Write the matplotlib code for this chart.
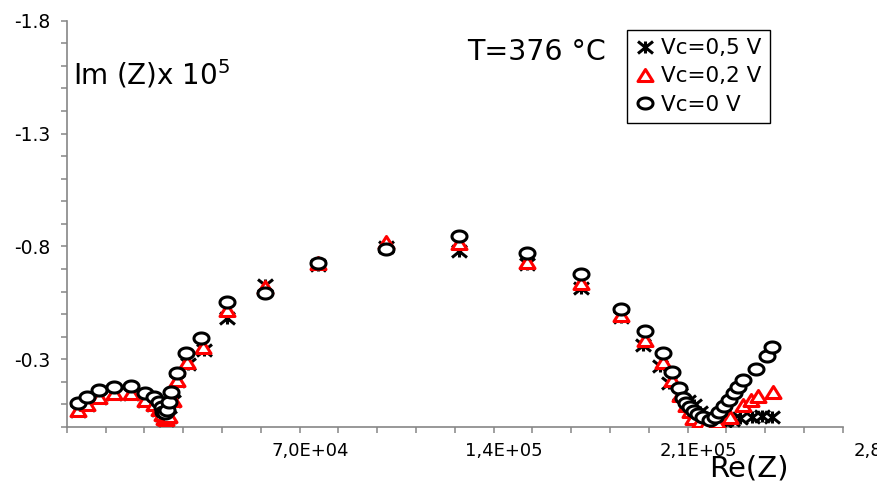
import numpy as np
import matplotlib
matplotlib.use("Agg")
import matplotlib.pyplot as plt
import matplotlib.transforms as mtransforms
from matplotlib.path import Path

plt.rcParams['font.family'] = ['DejaVu Sans']
plt.rcParams['axes.unicode_minus'] = False

# ---------------- data (Re(Z) in ohm, Im(Z) in units of 1e5) ----------------
re_v0 = [4200, 7200, 11800, 17100, 23100, 28300, 31500, 33400, 34300, 34900, 35500,
         36300, 37000, 37500, 39700, 43000, 48300, 57700, 71500, 90800, 115200,
         141700, 166200, 185600, 200000, 208700, 215300, 218300, 221000, 222300,
         223400, 224900, 226300, 227900, 229700, 232100, 233900, 235500, 237300,
         239100, 240800, 242300, 244100, 248700, 252600, 254400]
im_v0 = [-0.105, -0.134, -0.164, -0.179, -0.183, -0.152, -0.134, -0.112, -0.090,
         -0.068, -0.061, -0.075, -0.112, -0.156, -0.241, -0.329, -0.393, -0.555,
         -0.592, -0.728, -0.787, -0.846, -0.770, -0.680, -0.523, -0.427, -0.326,
         -0.245, -0.171, -0.127, -0.105, -0.087, -0.072, -0.058, -0.043, -0.031,
         -0.043, -0.068, -0.093, -0.120, -0.149, -0.179, -0.208, -0.256, -0.315,
         -0.356]

re_v02 = [4100, 7200, 11700, 17100, 23100, 28300, 31500, 33300, 34400, 35100, 35800,
          36900, 38400, 39800, 43300, 49300, 57700, 71500, 90700, 115200, 141700,
          166200, 185600, 200000, 208700, 215300, 218300, 221300, 223400, 224900,
          226000, 228500, 230900, 234500, 239300, 244100, 246900, 249500, 254900]
im_v02 = [-0.075, -0.102, -0.134, -0.151, -0.152, -0.120, -0.102, -0.080, -0.058,
          -0.040, -0.035, -0.049, -0.120, -0.208, -0.289, -0.356, -0.518, -0.622,
          -0.727, -0.820, -0.814, -0.732, -0.638, -0.496, -0.385, -0.289, -0.208,
          -0.142, -0.097, -0.071, -0.040, -0.027, -0.016, -0.023, -0.046, -0.097,
          -0.120, -0.137, -0.156]

re_v05 = [4100, 7200, 11700, 17100, 23100, 28300, 31500, 33300, 34400, 35100, 35800,
          36900, 38400, 39800, 43800, 49500, 57800, 71500, 90700, 115200, 141700,
          166200, 185600, 200000, 207900, 214100, 217300, 221300, 224200, 226300,
          228500, 231400, 234300, 237200, 240000, 242900, 247300, 250900, 254500]
im_v05 = [-0.071, -0.097, -0.128, -0.146, -0.146, -0.115, -0.097, -0.075, -0.053,
          -0.035, -0.031, -0.044, -0.115, -0.204, -0.279, -0.341, -0.483, -0.629,
          -0.718, -0.797, -0.780, -0.722, -0.616, -0.487, -0.363, -0.270, -0.195,
          -0.146, -0.115, -0.097, -0.066, -0.040, -0.027, -0.027, -0.031, -0.040,
          -0.044, -0.049, -0.044]

series_labels = ["Vc=0,5 V", "Vc=0,2 V", "Vc=0 V"]
xtick_values = [70000, 140000, 210000, 280000]
xtick_labels = ["7,0E+04", "1,4E+05", "2,1E+05", "2,8E+05"]
ytick_values = [-1.8, -1.3, -0.8, -0.3]
ytick_labels = ["-1.8", "-1.3", "-0.8", "-0.3"]

# ---------------- custom (horizontally stretched) markers ----------------
t = np.linspace(0, 2 * np.pi, 72)
ellipse = Path(np.column_stack([0.5 * np.cos(t), 0.5 / 1.36 * np.sin(t)]), closed=True)
triangle = Path([(-0.5, -0.4), (0.5, -0.4), (0.0, 0.4), (-0.5, -0.4)], closed=True)
asterisk = Path([(0, -0.4), (0, 0.4), (-0.5, -0.4), (0.5, 0.4), (-0.5, 0.4), (0.5, -0.4)],
                [Path.MOVETO, Path.LINETO, Path.MOVETO, Path.LINETO, Path.MOVETO, Path.LINETO])

W, H = 877, 483
fig = plt.figure(figsize=(W / 100, H / 100), dpi=100)
ax = fig.add_axes([66.7 / W, 1 - 427 / H, 776 / W, 406.3 / H])

ms = 10.8
mew = 2.2
ax.plot(re_v05, im_v05, linestyle='none', marker=asterisk, ms=ms, mew=mew,
        mec='black', mfc='none', zorder=3, label=series_labels[0])
ax.plot(re_v02, im_v02, linestyle='none', marker=triangle, ms=ms, mew=mew,
        mec='#ff0000', mfc='white', zorder=4, label=series_labels[1])
ax.plot(re_v0, im_v0, linestyle='none', marker=ellipse, ms=ms, mew=mew,
        mec='black', mfc='white', zorder=5, label=series_labels[2])

ax.set_xlim(0, 280000)
ax.set_ylim(0, -1.8)

spine_col = '#868686'
for s in ['top', 'right']:
    ax.spines[s].set_visible(False)
for s in ['left', 'bottom']:
    ax.spines[s].set_color(spine_col)
    ax.spines[s].set_linewidth(1.2)

ax.set_xticks(xtick_values, xtick_labels)
ax.set_xticks(np.arange(0, 280001, 14000), minor=True)
ax.set_yticks(ytick_values, ytick_labels)
ax.set_yticks(np.round(np.arange(0, -1.81, -0.1), 1), minor=True)

ax.tick_params(axis='both', which='both', direction='out', length=4.0,
               width=1.1, color=spine_col)
ax.tick_params(axis='y', which='major', labelsize=13.5, pad=7.5)
ax.tick_params(axis='x', which='major', labelsize=13, pad=7)

offset = mtransforms.ScaledTranslation(0.495, 0, fig.dpi_scale_trans)
for lbl in ax.get_xticklabels():
    lbl.set_transform(lbl.get_transform() + offset)

fig.text(73 / W, 1 - 85 / H, r'Im (Z)x 10$^5$', fontsize=20, ha='left', va='baseline')
fig.text(467 / W, 1 - 60 / H, 'T=376 °C', fontsize=20.5, ha='left', va='baseline')
fig.text(709 / W, 1 - 477 / H, 'Re(Z)', fontsize=21, ha='left', va='baseline')

leg = ax.legend(loc='upper left', bbox_to_anchor=(626.7 / W, 1 - 30 / H),
                bbox_transform=fig.transFigure, borderaxespad=0, fontsize=15.5,
                frameon=True, fancybox=False, framealpha=1, edgecolor='black',
                handlelength=0.9, handletextpad=0.32, borderpad=0.38,
                labelspacing=0.38, numpoints=1)
leg.get_frame().set_linewidth(1.0)

fig.savefig('out.png', dpi=100)
